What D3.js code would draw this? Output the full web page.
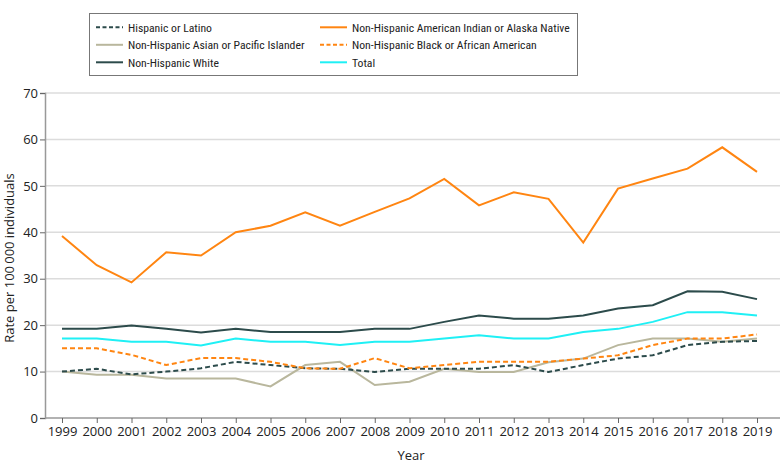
<!DOCTYPE html>
<html>
<head>
<meta charset="utf-8">
<script src="https://cdn.jsdelivr.net/npm/d3@7"></script>
<style>
  body { margin: 0; background: #fff; }
  text { font-family: "Open Sans", sans-serif; fill: #222; }
</style>
</head>
<body>
<script>
// data
var years = [1999,2000,2001,2002,2003,2004,2005,2006,2007,2008,2009,2010,2011,2012,2013,2014,2015,2016,2017,2018,2019];
var hispanic = [10.0,10.6,9.4,10.0,10.7,12.1,11.4,10.7,10.6,9.9,10.6,10.6,10.6,11.4,9.9,11.4,12.8,13.5,15.7,16.4,16.6];
var aian = [39.2,32.9,29.2,35.7,35.0,40.0,41.4,44.3,41.4,44.4,47.3,51.5,45.8,48.6,47.2,37.8,49.4,51.6,53.7,58.3,53.0];
var asian = [10.0,9.3,9.3,8.5,8.5,8.5,6.8,11.4,12.1,7.1,7.8,10.6,9.9,9.9,12.0,12.8,15.7,17.1,17.1,16.4,17.1];
var black = [15.0,15.0,13.6,11.4,12.9,12.9,12.1,10.7,10.6,12.9,10.7,11.4,12.1,12.1,12.1,12.8,13.5,15.7,17.1,17.1,18.0];
var white = [19.2,19.2,19.9,19.2,18.4,19.2,18.5,18.5,18.5,19.2,19.2,20.7,22.1,21.4,21.4,22.1,23.6,24.3,27.3,27.2,25.6];
var total = [17.1,17.1,16.4,16.4,15.6,17.1,16.4,16.4,15.7,16.4,16.4,17.1,17.8,17.1,17.1,18.5,19.2,20.7,22.8,22.8,22.1];
var yTicks = [0,10,20,30,40,50,60,70];

var series = [
  {name:"Hispanic or Latino", values:hispanic, color:"#2c4b4b", dash:"5,3"},
  {name:"Non-Hispanic American Indian or Alaska Native", values:aian, color:"#ff8511", dash:null},
  {name:"Non-Hispanic Asian or Pacific Islander", values:asian, color:"#b9b79d", dash:null},
  {name:"Non-Hispanic Black or African American", values:black, color:"#ff8511", dash:"5,3"},
  {name:"Non-Hispanic White", values:white, color:"#2c4b4b", dash:null},
  {name:"Total", values:total, color:"#1ff0f5", dash:null}
];
// draw order: back to front
var drawOrder = [2,0,3,5,4,1];

var W = 783, H = 474;
var svg = d3.select("body").append("svg").attr("width", W).attr("height", H);

var x = d3.scaleLinear().domain([1999, 2019]).range([62, 757]);
var y = d3.scaleLinear().domain([0, 70]).range([418, 93]);
var axisLeft = 45, axisRight = 780;

// gridlines
svg.selectAll(".grid").data(yTicks.filter(function(d){ return d > 0; })).enter()
  .append("line")
  .attr("x1", axisLeft).attr("x2", axisRight)
  .attr("y1", function(d){ return y(d); }).attr("y2", function(d){ return y(d); })
  .style("stroke", "#dcdcdc").style("stroke-width", 1.5);

// y axis
var gy = svg.append("g").attr("transform", "translate(" + axisLeft + ",0)")
  .call(d3.axisLeft(y).tickValues(yTicks).tickSize(5).tickPadding(2));
gy.select(".domain").style("stroke", "#999").style("stroke-width", 1.5);
gy.selectAll(".tick line").style("stroke", "#666");
gy.selectAll("text").style("font-size", "13px").style("fill", "#222")
  .style("font-family", '"Open Sans", sans-serif');

// x axis
var gx = svg.append("g").attr("transform", "translate(0," + y(0) + ")")
  .call(d3.axisBottom(x).tickValues(years).tickFormat(d3.format("d")).tickSize(5).tickPadding(4));
gx.select(".domain").attr("d", "M" + axisLeft + ",0H" + axisRight)
  .style("stroke", "#999").style("stroke-width", 1.5);
gx.selectAll(".tick line").style("stroke", "#666");
gx.selectAll("text").style("font-size", "13px").style("fill", "#222")
  .style("font-family", '"Open Sans", sans-serif');

// axis titles
svg.append("text").attr("x", 411).attr("y", 460).attr("text-anchor", "middle")
  .style("font-size", "13px").text("Year");
svg.append("text").attr("transform", "translate(14,258) rotate(-90)")
  .attr("text-anchor", "middle").style("font-size", "13px")
  .text("Rate per 100\u2009000 individuals");

// lines
var line = d3.line()
  .x(function(d, i){ return x(years[i]); })
  .y(function(d){ return y(d); });

svg.selectAll(".series").data(drawOrder.map(function(i){ return series[i]; })).enter()
  .append("path")
  .attr("d", function(d){ return line(d.values); })
  .style("fill", "none")
  .style("stroke", function(d){ return d.color; })
  .style("stroke-width", 2)
  .style("stroke-dasharray", function(d){ return d.dash; });

// legend
var lg = svg.append("g");
lg.append("rect").attr("x", 89.5).attr("y", 13.5).attr("width", 488).attr("height", 62)
  .style("fill", "#fff").style("stroke", "#777").style("stroke-width", 1);
var items = lg.selectAll(".item").data(series).enter().append("g")
  .attr("transform", function(d, i){
    var col = i % 2, row = Math.floor(i / 2);
    return "translate(" + (col ? 320 : 96) + "," + (27.3 + row * 17.5) + ")";
  });
items.append("line").attr("x1", 0).attr("x2", 27).attr("y1", 0).attr("y2", 0)
  .style("stroke", function(d){ return d.color; }).style("stroke-width", 2)
  .style("stroke-dasharray", function(d){ return d.dash ? "4,2.5" : null; });
items.append("text").attr("x", 32).attr("y", 4.3)
  .style("font-family", '"Roboto Condensed", sans-serif').style("font-size", "11.7px")
  .text(function(d){ return d.name; });
</script>
</body>
</html>
